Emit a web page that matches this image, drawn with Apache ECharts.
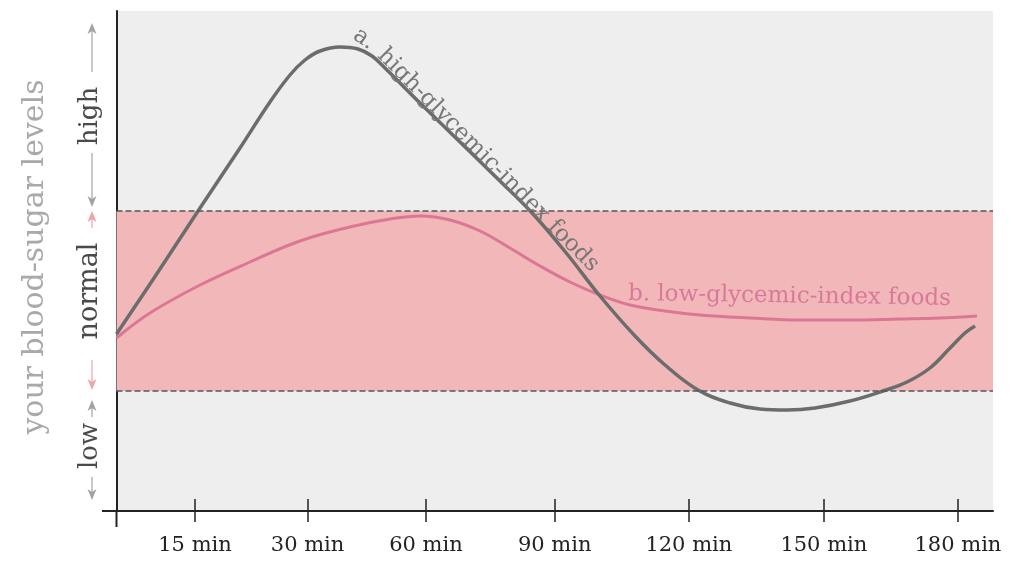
<!DOCTYPE html>
<html><head><meta charset="utf-8">
<script src="https://cdn.jsdelivr.net/npm/echarts@6/dist/echarts.min.js"></script>
<style>html,body{margin:0;padding:0;background:#fff}#c{width:1011px;height:561px}</style>
</head><body><div id="c"></div>
<script>
// x positions are in drawing units along the time axis (0..100), ticks are unevenly spaced in the original
const xTickPositions = [8.96, 21.8, 35.3, 50.0, 65.3, 80.7, 96.0];
const xTickLabels = ['15 min', '30 min', '60 min', '90 min', '120 min', '150 min', '180 min'];
// blood-sugar level (0..100 scale)
const normalRange = [24, 60];
const highGI = [
  [0, 35.4], [4.96, 48.4], [9.53, 60.6], [14.09, 72.6], [17.51, 81.8], [19.79, 87.2],
  [21.5, 90.2], [23.22, 92.0], [25.5, 92.8], [27.55, 92.4], [29.15, 91.0], [30.63, 88.6],
  [34.63, 81.6], [39.19, 73.8], [43.75, 66.0], [47.52, 59.4], [51.4, 51.4], [55.16, 43.0],
  [59.16, 35.0], [62.58, 29.2], [66.34, 24.2], [70.0, 21.6], [73.42, 20.4], [76.5, 20.2],
  [79.69, 20.6], [83.68, 22.0], [87.45, 24.0], [90.19, 25.8], [92.81, 28.6], [95.1, 32.6],
  [96.8, 35.6], [97.95, 37.0]
];
const lowGI = [
  [0, 34.6], [3.82, 39.6], [9.53, 45.2], [15.23, 49.8], [20.93, 54.0], [26.63, 56.8],
  [31.2, 58.4], [34.63, 59.0], [38.05, 58.2], [41.47, 56.0], [44.89, 52.6], [48.32, 49.0],
  [51.74, 45.8], [55.16, 43.2], [58.59, 41.2], [62.58, 40.0], [66.57, 39.2], [72.27, 38.6],
  [77.98, 38.2], [83.68, 38.2], [89.39, 38.4], [93.95, 38.6], [98.17, 39.0]
];
const seriesNames = ['a. high-glycemic-index foods', 'b. low-glycemic-index foods'];
const yTitle = 'your blood-sugar levels';
const levelNames = ['high', 'normal', 'low'];

const SERIF = '"DejaVu Serif", "Liberation Serif", serif';
const chart = echarts.init(document.getElementById('c'));

function labelFor(v) {
  let best = 0;
  for (let i = 1; i < xTickPositions.length; i++)
    if (Math.abs(xTickPositions[i] - v) < Math.abs(xTickPositions[best] - v)) best = i;
  return xTickLabels[best];
}

function arrow(x, y1, y2, color, headAt) {
  const els = [{
    type: 'line', silent: true,
    shape: { x1: x, y1: headAt === 'top' ? y1 + 6 : y1, x2: x, y2: headAt === 'bottom' ? y2 - 6 : y2 },
    style: { stroke: color, lineWidth: 1.2 }
  }];
  const tip = headAt === 'top' ? y1 : y2;
  const d = headAt === 'top' ? 1 : -1;
  els.push({
    type: 'polygon', silent: true,
    shape: { points: [[x, tip], [x - 4.5, tip + d * 11], [x, tip + d * 8], [x + 4.5, tip + d * 11]] },
    style: { fill: color }
  });
  return els;
}

const grey = '#a3a3a3';
const pinkArrow = '#f0a3a8';
const graphics = [].concat(
  [{ type: 'text', silent: true, x: 35, y: 257, rotation: Math.PI / 2,
     style: { text: yTitle, font: '30px ' + SERIF, fill: '#a9a9a9', align: 'center', verticalAlign: 'middle' } }],
  arrow(92, 23, 72, grey, 'top'),
  [{ type: 'text', silent: true, x: 90, y: 116, rotation: Math.PI / 2,
     style: { text: levelNames[0], font: '26px ' + SERIF, fill: '#4a4a4a', align: 'center', verticalAlign: 'middle' } }],
  arrow(92, 153, 207, grey, 'bottom'),
  arrow(92, 211, 228, pinkArrow, 'top'),
  [{ type: 'text', silent: true, x: 90, y: 291, rotation: Math.PI / 2,
     style: { text: levelNames[1], font: '27px ' + SERIF, fill: '#4a4a4a', align: 'center', verticalAlign: 'middle' } }],
  arrow(92, 360, 390, pinkArrow, 'bottom'),
  arrow(92, 400, 417, grey, 'top'),
  [{ type: 'text', silent: true, x: 90, y: 446, rotation: Math.PI / 2,
     style: { text: levelNames[2], font: '26px ' + SERIF, fill: '#4a4a4a', align: 'center', verticalAlign: 'middle' } }],
  arrow(92, 477, 500, grey, 'bottom'),
  [{ type: 'line', silent: true, shape: { x1: 102, y1: 511, x2: 118, y2: 511 }, style: { stroke: '#222', lineWidth: 2 } },
   { type: 'line', silent: true, shape: { x1: 116.5, y1: 510, x2: 116.5, y2: 527 }, style: { stroke: '#222', lineWidth: 2 } }],
  [{ type: 'text', silent: true, x: 364, y: 39, rotation: -0.6, z: 10,
     style: { text: 'a.', font: '23px ' + SERIF, fill: '#777', align: 'center', verticalAlign: 'middle' } },
   { type: 'text', silent: true, x: 381, y: 52, rotation: -0.79, z: 10,
     style: { text: seriesNames[0].slice(3), font: '23px ' + SERIF, fill: '#777', align: 'left', verticalAlign: 'middle' } },
   { type: 'text', silent: true, x: 628, y: 294, rotation: -0.015, z: 10,
     style: { text: seriesNames[1], font: '23px ' + SERIF, fill: '#d9789a', align: 'left', verticalAlign: 'middle' } }]
);

chart.setOption({
  animation: false,
  grid: { left: 116.5, top: 11, right: 18, bottom: 50, show: true, backgroundColor: '#eeeeee', borderWidth: 0 },
  xAxis: [{
    type: 'value', min: 0, max: 100, position: 'bottom',
    axisLine: { show: true, lineStyle: { color: '#222', width: 2 } },
    axisTick: { show: true, customValues: xTickPositions, length: 11, lineStyle: { color: '#222', width: 1.5 } },
    axisLabel: { show: true, customValues: xTickPositions, formatter: v => labelFor(v),
      fontFamily: SERIF, fontSize: 21, color: '#222', margin: 24 },
    splitLine: { show: false }
  }, {
    type: 'value', min: 0, max: 100, position: 'bottom',
    axisLine: { show: false },
    axisTick: { show: true, inside: true, customValues: xTickPositions, length: 12, lineStyle: { color: '#222', width: 1.5 } },
    axisLabel: { show: false },
    splitLine: { show: false }
  }],
  yAxis: {
    type: 'value', min: 0, max: 100,
    axisLine: { show: true, lineStyle: { color: '#222', width: 2 } },
    axisTick: { show: false }, axisLabel: { show: false }, splitLine: { show: false }
  },
  series: [{
    type: 'line', data: [], z: 1, silent: true,
    markArea: { silent: true, itemStyle: { color: '#f2b8b9' }, data: [[{ yAxis: normalRange[0] }, { yAxis: normalRange[1] }]] },
    markLine: { silent: true, symbol: 'none', label: { show: false },
      lineStyle: { color: '#555', type: [6, 3], width: 1.5 },
      data: [{ yAxis: normalRange[0] }, { yAxis: normalRange[1] }] }
  }, {
    name: seriesNames[1], type: 'line', data: lowGI, smooth: 0.4, symbol: 'none', z: 3,
    lineStyle: { color: '#dc7695', width: 3 }
  }, {
    name: seriesNames[0], type: 'line', data: highGI, smooth: 0.4, symbol: 'none', z: 4,
    lineStyle: { color: '#6c6c6c', width: 3.5 }
  }],
  graphic: graphics
});
</script>
</body></html>
